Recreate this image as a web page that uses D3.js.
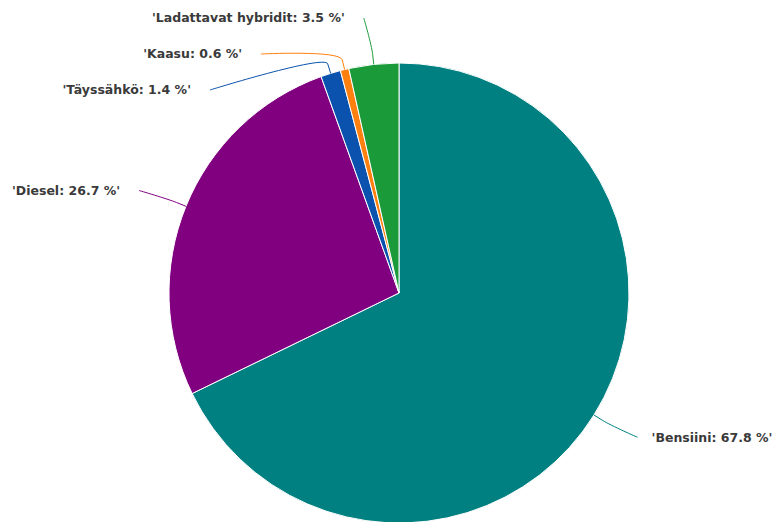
<!DOCTYPE html>
<html>
  <head>
    <meta charset="utf-8">
    <script src="https://d3js.org/d3.v7.min.js"></script>
    <style>
      body { margin: 0; background: #fff; }
      .label {
        font: bold 12.5px "DejaVu Sans", Verdana, sans-serif;
        fill: #3a3a3a;
        stroke: #fff;
        stroke-width: 2px;
        paint-order: stroke;
        stroke-linejoin: round;
      }
      .connector { fill: none; stroke-width: 1px; }
    </style>
  </head>
  <body>
    <svg width="775" height="522"></svg>
    <script>
      // Share of fuel types (%)
      const categories = ["Bensiini", "Diesel", "Täyssähkö", "Kaasu", "Ladattavat hybridit"];
      const values = [67.8, 26.7, 1.4, 0.6, 3.5];
      const colors = ["#008080", "#800080", "#0a52ad", "#ff800e", "#1b9a3a"];

      const data = categories.map((c, i) => ({name: c, value: values[i], color: colors[i]}));

      const cx = 399, cy = 293, r = 230;
      const labelR = 272, offset = 8, gap = 36, minY = 18;

      const svg = d3.select("svg");
      const g = svg.append("g").attr("transform", `translate(${cx},${cy})`);

      const pie = d3.pie().sort(null).value(d => d.value);
      const arc = d3.arc().innerRadius(0).outerRadius(r);
      const arcs = pie(data);

      g.selectAll("path.slice")
        .data(arcs)
        .enter().append("path")
        .attr("class", "slice")
        .attr("d", arc)
        .attr("fill", d => d.data.color)
        .attr("stroke", "#fff")
        .attr("stroke-width", 1);

      // label positions: natural y then spread out on each side
      arcs.forEach(a => {
        a.mid = (a.startAngle + a.endAngle) / 2;
        a.left = a.mid > Math.PI;
        a.ty = -Math.cos(a.mid) * labelR;
      });

      function distribute(items) {
        items.sort((a, b) => a.ty - b.ty);
        let groups = items.map(d => ({items: [d]}));
        const place = gr => {
          const n = gr.items.length;
          const mean = d3.mean(gr.items, d => d.ty);
          gr.start = Math.max(mean - (n - 1) * gap / 2, minY - cy);
        };
        groups.forEach(place);
        let merged = true;
        while (merged) {
          merged = false;
          for (let i = 0; i < groups.length - 1; i++) {
            const a = groups[i], b = groups[i + 1];
            if (a.start + a.items.length * gap > b.start) {
              a.items = a.items.concat(b.items);
              groups.splice(i + 1, 1);
              place(a);
              merged = true;
              break;
            }
          }
        }
        groups.forEach(gr => gr.items.forEach((d, i) => { d.ly = gr.start + i * gap; }));
      }
      distribute(arcs.filter(a => a.left));
      distribute(arcs.filter(a => !a.left));

      arcs.forEach(a => {
        const s = a.left ? -1 : 1;
        const touch = [Math.sin(a.mid) * r, -Math.cos(a.mid) * r];
        const brk = [Math.sin(a.mid) * (r + 10), -Math.cos(a.mid) * (r + 10)];
        let ax = s * (Math.sqrt(Math.max(0, labelR * labelR - a.ly * a.ly)) + offset);
        if (a.left) ax = Math.min(ax, touch[0] - 10);
        else ax = Math.max(ax, touch[0] + 10);
        a.anchor = [ax, a.ly];
        a.touch = touch;
        a.brk = brk;
      });

      const connectorPath = a => {
        const [x, y] = a.anchor;
        return `M${x},${y}C${x},${y} ${2 * a.brk[0] - a.touch[0]},${2 * a.brk[1] - a.touch[1]} ${a.brk[0]},${a.brk[1]}L${a.touch[0]},${a.touch[1]}`;
      };

      g.selectAll("path.connector")
        .data(arcs)
        .enter().append("path")
        .attr("class", "connector")
        .attr("stroke", d => d.data.color)
        .attr("d", connectorPath);

      g.selectAll("text.label")
        .data(arcs)
        .enter().append("text")
        .attr("class", "label")
        .attr("x", d => d.anchor[0] + (d.left ? -19 : 14))
        .attr("y", d => d.anchor[1])
        .attr("dy", "0.35em")
        .attr("text-anchor", d => d.left ? "end" : "start")
        .text(d => `'${d.data.name}: ${d.data.value} %'`);
    </script>
  </body>
</html>
